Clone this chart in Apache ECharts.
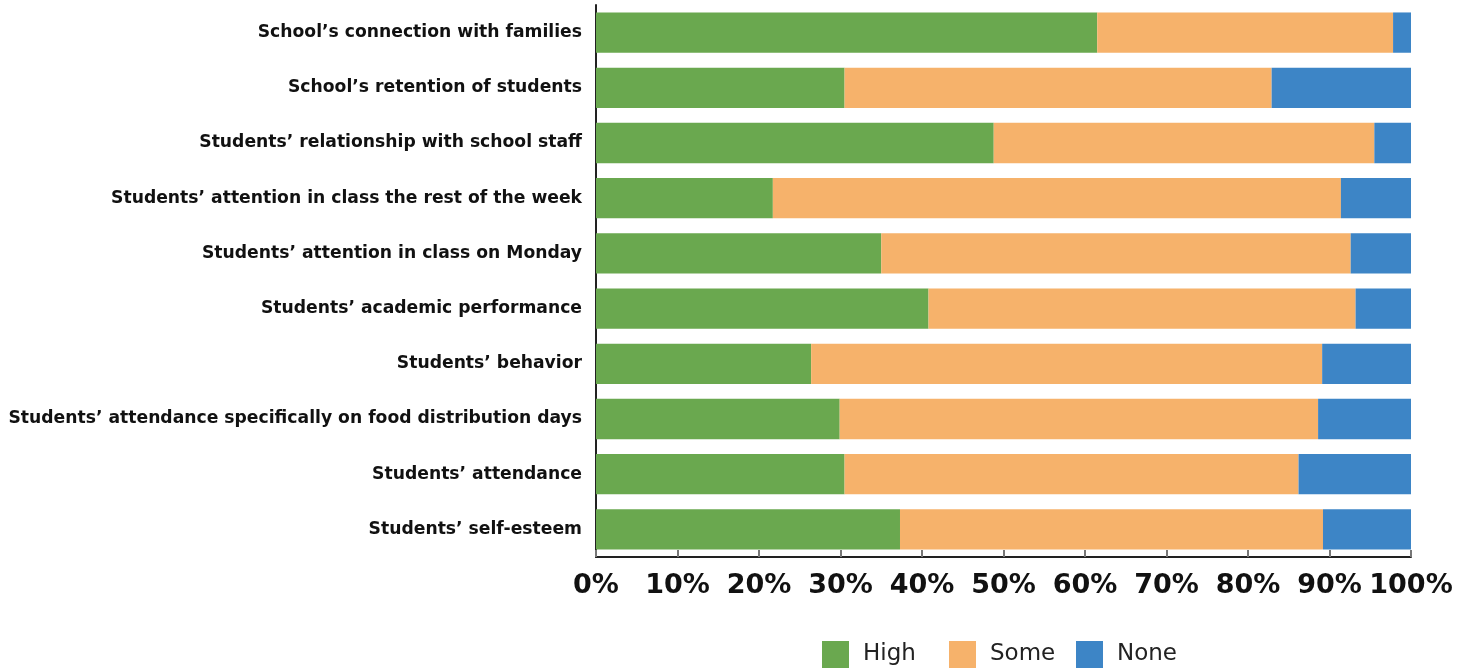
<!DOCTYPE html>
<html>
<head>
<meta charset="utf-8">
<script src="https://cdn.jsdelivr.net/npm/echarts@6/dist/echarts.min.js"></script>
<style>
  html, body { margin: 0; padding: 0; background: #fff; }
  #chart { width: 1466px; height: 671px; }
</style>
</head>
<body>
<div id="chart"></div>
<script>
// categories, bottom to top
var categories = [
    "Students’ self-esteem",
    "Students’ attendance",
    "Students’ attendance specifically on food distribution days",
    "Students’ behavior",
    "Students’ academic performance",
    "Students’ attention in class on Monday",
    "Students’ attention in class the rest of the week",
    "Students’ relationship with school staff",
    "School’s retention of students",
    "School’s connection with families"
];
var seriesNames = ['High', 'Some', 'None'];
var high = [37.3, 30.5, 29.9, 26.4, 40.8, 35.0, 21.7, 48.8, 30.5, 61.5];
var some = [51.9, 55.7, 58.7, 62.7, 52.4, 57.6, 69.7, 46.7, 52.4, 36.3];
var none = [10.8, 13.8, 11.4, 10.9, 6.8, 7.4, 8.6, 4.5, 17.1, 2.2];
var tickValues = [0, 10, 20, 30, 40, 50, 60, 70, 80, 90, 100];

var myChart = echarts.init(document.getElementById("chart"));

// one legend per item so the spacing matches the original
var legendLeft = [822, 949, 1076];
var legends = seriesNames.map(function (name, i) {
    return {
        left: legendLeft[i],
        top: 641,
        padding: 0,
        itemWidth: 27,
        itemHeight: 27,
        icon: 'rect',
        textStyle: { fontSize: 23, color: '#222', fontFamily: 'DejaVu Sans', padding: [0, 0, 0, 9] },
        data: [name]
    };
});

var option = {
    animation: false,
    grid: { left: 596, right: 55, top: 5, bottom: 114, containLabel: false },
    legend: legends,
    xAxis: {
        type: 'value',
        min: 0,
        max: 100,
        interval: 10,
        axisLine: { show: true, lineStyle: { color: '#222', width: 2 } },
        axisTick: { show: true, inside: true, length: 7, lineStyle: { color: '#777', width: 2 } },
        splitLine: { show: false },
        axisLabel: {
            margin: 15,
            fontSize: 27,
            fontWeight: 'bold',
            fontFamily: 'DejaVu Sans',
            color: '#111',
            formatter: function (v) { return tickValues.indexOf(v) >= 0 ? v + '%' : ''; }
        }
    },
    yAxis: {
        type: 'category',
        data: categories,
        axisLine: { show: true, lineStyle: { color: '#222', width: 2 } },
        axisTick: { show: false },
        axisLabel: {
            margin: 14,
            fontSize: 17.2,
            fontWeight: 'bold',
            fontFamily: 'DejaVu Sans',
            color: '#111'
        }
    },
    series: [
        { name: seriesNames[0], type: 'bar', stack: 'a', data: high, barCategoryGap: '27%', itemStyle: { color: '#6AA84F' } },
        { name: seriesNames[1], type: 'bar', stack: 'a', data: some, itemStyle: { color: '#F6B26B' } },
        { name: seriesNames[2], type: 'bar', stack: 'a', data: none, itemStyle: { color: '#3D85C6' } }
    ]
};
myChart.setOption(option);
</script>
</body>
</html>
